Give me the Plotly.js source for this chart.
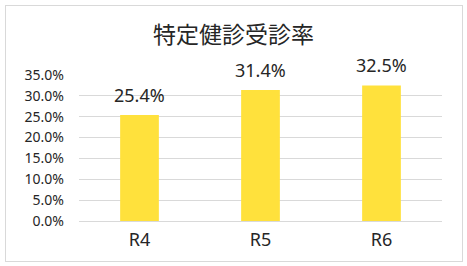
<!DOCTYPE html>
<html><head><meta charset="utf-8">
<script src="https://cdn.plot.ly/plotly-3.0.1.min.js"></script>
<style>body{margin:0;background:#fff}#wrap{position:relative;width:467px;height:266px}#chart{width:467px;height:266px}#frame{position:absolute;left:5px;top:5px;width:456px;height:255px;border:1px solid #d9d9d9;pointer-events:none}</style>
</head><body><div id="wrap"><div id="chart"></div><div id="frame"></div></div>
<script>
const categories = ['R4', 'R5', 'R6'];
const rates = [25.4, 31.4, 32.5];
const labels = ['25.4%', '31.4%', '32.5%'];
const yTicks = [0, 5, 10, 15, 20, 25, 30, 35];

const trace = {type: 'bar', x: categories, y: rates, marker: {color: '#FFE13C'}, width: 0.32, hoverinfo: 'none'};
const annotations = categories.map((c, i) => ({
  x: c, y: rates[i], xref: 'x', yref: 'y', text: labels[i], showarrow: false,
  yanchor: 'bottom', yshift: 6, font: {family: 'Noto Sans, sans-serif', size: 18, color: '#262626'}
}));
const layout = {
  width: 467, height: 266,
  margin: {l: 79, r: 25, t: 75, b: 45},
  paper_bgcolor: '#fff', plot_bgcolor: '#fff',
  title: {text: '特定健診受診率', x: 0.5, xanchor: 'center', y: 0.87, yanchor: 'middle', font: {family: 'Noto Sans CJK JP, sans-serif', size: 23, color: '#262626'}},
  xaxis: {type: 'category', showgrid: false, showline: false, ticks: '', tickfont: {family: 'Noto Sans, sans-serif', size: 18, color: '#262626'}, ticklabelstandoff: 6},
  yaxis: {range: [0, 35], tickvals: yTicks, ticktext: yTicks.map(v => v.toFixed(1) + '%'), gridcolor: '#d9d9d9', gridwidth: 1, zeroline: true, zerolinecolor: '#d9d9d9', showline: false, ticks: '', tickfont: {family: 'Noto Sans, sans-serif', size: 14, color: '#262626'}, ticklabelstandoff: 14},
  annotations: annotations,
  showlegend: false
};
Plotly.newPlot('chart', [trace], layout, {staticPlot: true});
</script></body></html>
